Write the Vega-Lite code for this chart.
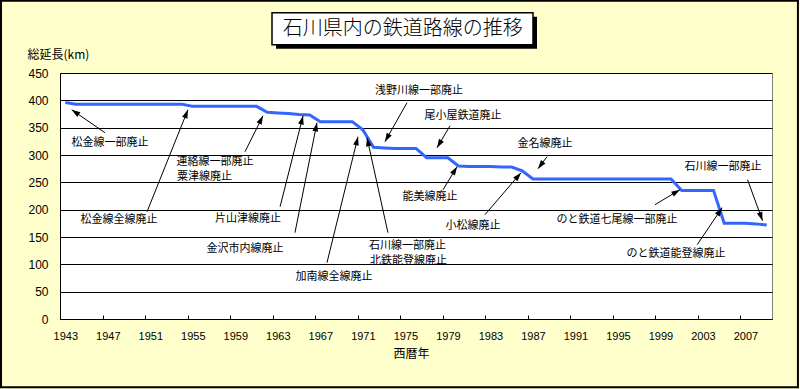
{
  "$schema": "https://vega.github.io/schema/vega-lite/v6.json",
  "width": 712,
  "height": 246,
  "autosize": {"type": "none"},
  "padding": {"left": 60, "top": 73, "right": 28, "bottom": 70},
  "background": "#FFFFCC",
  "config": {
    "view": {"fill": "white", "stroke": "#808080", "strokeWidth": 1},
    "font": "Noto Sans CJK JP",
    "axisY": {"tickCount": 10, "ticks": false, "grid": true, "gridColor": "black", "gridOpacity": 1, "labelPadding": 12, "domainColor": "black", "labelFont": "Liberation Sans", "labelFontSize": 12, "labelColor": "black"},
    "axisX": {"grid": false, "domainColor": "black", "tickColor": "black", "labelFont": "Liberation Sans", "labelFontSize": 11, "labelColor": "black"}
  },
  "datasets": {
    "series": [
      {"year": 1943, "km": 396}, {"year": 1944, "km": 393}, {"year": 1945, "km": 393}, {"year": 1946, "km": 393},
      {"year": 1947, "km": 393}, {"year": 1948, "km": 393}, {"year": 1949, "km": 393}, {"year": 1950, "km": 393},
      {"year": 1951, "km": 393}, {"year": 1952, "km": 393}, {"year": 1953, "km": 393}, {"year": 1954, "km": 393},
      {"year": 1955, "km": 389}, {"year": 1956, "km": 389}, {"year": 1957, "km": 389}, {"year": 1958, "km": 389},
      {"year": 1959, "km": 389}, {"year": 1960, "km": 389}, {"year": 1961, "km": 389}, {"year": 1962, "km": 378},
      {"year": 1963, "km": 377}, {"year": 1964, "km": 376}, {"year": 1965, "km": 374}, {"year": 1966, "km": 373},
      {"year": 1967, "km": 361}, {"year": 1968, "km": 361}, {"year": 1969, "km": 361}, {"year": 1970, "km": 361},
      {"year": 1971, "km": 346}, {"year": 1972, "km": 314}, {"year": 1973, "km": 313}, {"year": 1974, "km": 312},
      {"year": 1975, "km": 312}, {"year": 1976, "km": 312}, {"year": 1977, "km": 295}, {"year": 1978, "km": 295},
      {"year": 1979, "km": 295}, {"year": 1980, "km": 280}, {"year": 1981, "km": 279}, {"year": 1982, "km": 279},
      {"year": 1983, "km": 279}, {"year": 1984, "km": 278}, {"year": 1985, "km": 278}, {"year": 1986, "km": 271},
      {"year": 1987, "km": 256}, {"year": 1988, "km": 256}, {"year": 1989, "km": 256}, {"year": 1990, "km": 256},
      {"year": 1991, "km": 256}, {"year": 1992, "km": 256}, {"year": 1993, "km": 256}, {"year": 1994, "km": 256},
      {"year": 1995, "km": 256}, {"year": 1996, "km": 256}, {"year": 1997, "km": 256}, {"year": 1998, "km": 256},
      {"year": 1999, "km": 256}, {"year": 2000, "km": 256}, {"year": 2001, "km": 235}, {"year": 2002, "km": 235},
      {"year": 2003, "km": 235}, {"year": 2004, "km": 235}, {"year": 2005, "km": 175}, {"year": 2006, "km": 175},
      {"year": 2007, "km": 175}, {"year": 2008, "km": 174}, {"year": 2009, "km": 172}
    ],
    "labels": [
      {"label": "松金線一部廃止", "x": 1947.2, "y": 322.5},
      {"label": "松金線全線廃止", "x": 1948.05, "y": 181.6},
      {"label": "連絡線一部廃止", "x": 1957.09, "y": 286.5},
      {"label": "粟津線廃止", "x": 1956.1, "y": 259.5},
      {"label": "片山津線廃止", "x": 1960.19, "y": 183.5},
      {"label": "金沢市内線廃止", "x": 1959.9, "y": 128.6},
      {"label": "加南線全線廃止", "x": 1968.28, "y": 77.4},
      {"label": "石川線一部廃止", "x": 1975.2, "y": 133.0},
      {"label": "北鉄能登線廃止", "x": 1975.29, "y": 106.0},
      {"label": "浅野川線一部廃止", "x": 1976.28, "y": 417.6},
      {"label": "尾小屋鉄道廃止", "x": 1980.42, "y": 371.9},
      {"label": "金名線廃止", "x": 1988.14, "y": 320.7},
      {"label": "能美線廃止", "x": 1977.32, "y": 223.7},
      {"label": "小松線廃止", "x": 1981.37, "y": 170.7},
      {"label": "のと鉄道七尾線一部廃止", "x": 1994.91, "y": 181.6},
      {"label": "のと鉄道能登線廃止", "x": 2000.46, "y": 119.4},
      {"label": "石川線一部廃止", "x": 2004.88, "y": 278.6}
    ],
    "arrows": [
      {"sx": 1946.73, "sy": 340.8, "tx": 1943.6, "ty": 382.8},
      {"sx": 1950.69, "sy": 196.3, "tx": 1954.54, "ty": 382.9},
      {"sx": 1959.91, "sy": 306.0, "tx": 1961.6, "ty": 371.7},
      {"sx": 1963.21, "sy": 205.4, "tx": 1965.37, "ty": 371.7},
      {"sx": 1964.61, "sy": 157.9, "tx": 1966.68, "ty": 358.9},
      {"sx": 1967.62, "sy": 102.9, "tx": 1970.54, "ty": 333.4},
      {"sx": 1973.36, "sy": 157.9, "tx": 1971.39, "ty": 331.6},
      {"sx": 1975.15, "sy": 395.6, "tx": 1973.08, "ty": 324.3},
      {"sx": 1979.2, "sy": 353.4, "tx": 1977.98, "ty": 313.3},
      {"sx": 1988.33, "sy": 296.9, "tx": 1987.48, "ty": 275.0},
      {"sx": 1978.54, "sy": 236.3, "tx": 1979.86, "ty": 278.6},
      {"sx": 1982.49, "sy": 190.8, "tx": 1985.88, "ty": 267.6},
      {"sx": 1998.49, "sy": 209.1, "tx": 2000.84, "ty": 236.5},
      {"sx": 2002.46, "sy": 135.9, "tx": 2004.81, "ty": 203.6},
      {"sx": 2007.2, "sy": 254.8, "tx": 2008.61, "ty": 179.8}
    ]
  },
  "layer": [
    {
      "data": {"name": "series"},
      "mark": {"type": "line", "color": "#3366FF", "strokeWidth": 3},
      "encoding": {
        "x": {
          "field": "year", "type": "quantitative",
          "scale": {"domain": [1942.5, 2009.5], "nice": false, "zero": false},
          "axis": {
            "values": [1943, 1947, 1951, 1955, 1959, 1963, 1967, 1971, 1975, 1979, 1983, 1987, 1991, 1995, 1999, 2003, 2007],
            "format": "d", "title": "西暦年", "tickSize": -4,
            "tickOffset": -5.3, "labelOffset": 5.3, "labelPadding": 15,
            "titleX": 351, "titleY": 34, "titleFontSize": 12, "titleFontWeight": "normal",
            "titleColor": "black", "titleBaseline": "middle", "titleFont": "Noto Sans CJK JP"
          }
        },
        "y": {
          "field": "km", "type": "quantitative",
          "scale": {"domain": [0, 450], "nice": false},
          "axis": {
            "values": [0, 50, 100, 150, 200, 250, 300, 350, 400, 450],
            "title": "総延長(km)",
            "titleAngle": 0, "titleX": -33, "titleY": -19, "titleAlign": "left",
            "titleBaseline": "middle", "titleFontSize": 12, "titleFontWeight": "normal",
            "titleColor": "black", "titleFont": "Noto Sans CJK JP"
          }
        }
      }
    },
    {
      "data": {"values": [{}]},
      "mark": {"type": "rect", "fillOpacity": 0, "stroke": "black", "strokeWidth": 2},
      "encoding": {
        "x": {"datum": 1936.95, "type": "quantitative"},
        "x2": {"datum": 2011.94},
        "y": {"datum": 582.2, "type": "quantitative"},
        "y2": {"datum": -124.7}
      }
    },
    {
      "data": {"values": [{}]},
      "mark": {"type": "rect", "fill": "black", "xOffset": 4, "x2Offset": 4, "yOffset": 4, "y2Offset": 4},
      "encoding": {
        "x": {"datum": 1962.45, "type": "quantitative"},
        "x2": {"datum": 1987.01},
        "y": {"datum": 560.3, "type": "quantitative"},
        "y2": {"datum": 501.8}
      }
    },
    {
      "data": {"values": [{}]},
      "mark": {"type": "rect", "fill": "white", "stroke": "black", "strokeWidth": 1.5},
      "encoding": {
        "x": {"datum": 1962.45, "type": "quantitative"},
        "x2": {"datum": 1987.01},
        "y": {"datum": 560.3, "type": "quantitative"},
        "y2": {"datum": 501.8}
      }
    },
    {
      "data": {"values": [{}]},
      "mark": {"type": "text", "text": "石川県内の鉄道路線の推移", "fontSize": 20, "font": "Noto Sans CJK JP", "fontWeight": 300, "color": "black", "baseline": "middle", "align": "center"},
      "encoding": {
        "x": {"datum": 1974.75, "type": "quantitative"},
        "y": {"datum": 531, "type": "quantitative"}
      }
    },
    {
      "data": {"name": "arrows"},
      "mark": {"type": "rule", "color": "black", "strokeWidth": 1},
      "encoding": {
        "x": {"field": "sx", "type": "quantitative"},
        "y": {"field": "sy", "type": "quantitative"},
        "x2": {"field": "tx"},
        "y2": {"field": "ty"}
      }
    },
    {
      "data": {"name": "arrows"},
      "transform": [
        {"calculate": "atan2((datum.tx - datum.sx) * 10.627, (datum.ty - datum.sy) * 0.5467) * 180 / PI", "as": "ang"}
      ],
      "mark": {"type": "point", "shape": "M0,0L-0.33,1L0.33,1Z", "filled": true, "color": "black", "opacity": 1, "size": 300},
      "encoding": {
        "x": {"field": "tx", "type": "quantitative"},
        "y": {"field": "ty", "type": "quantitative"},
        "angle": {"field": "ang", "type": "quantitative", "scale": null}
      }
    },
    {
      "data": {"name": "labels"},
      "mark": {"type": "text", "fontSize": 11, "font": "Noto Sans CJK JP", "color": "black", "baseline": "middle", "align": "center"},
      "encoding": {
        "x": {"field": "x", "type": "quantitative"},
        "y": {"field": "y", "type": "quantitative"},
        "text": {"field": "label"}
      }
    }
  ]
}
